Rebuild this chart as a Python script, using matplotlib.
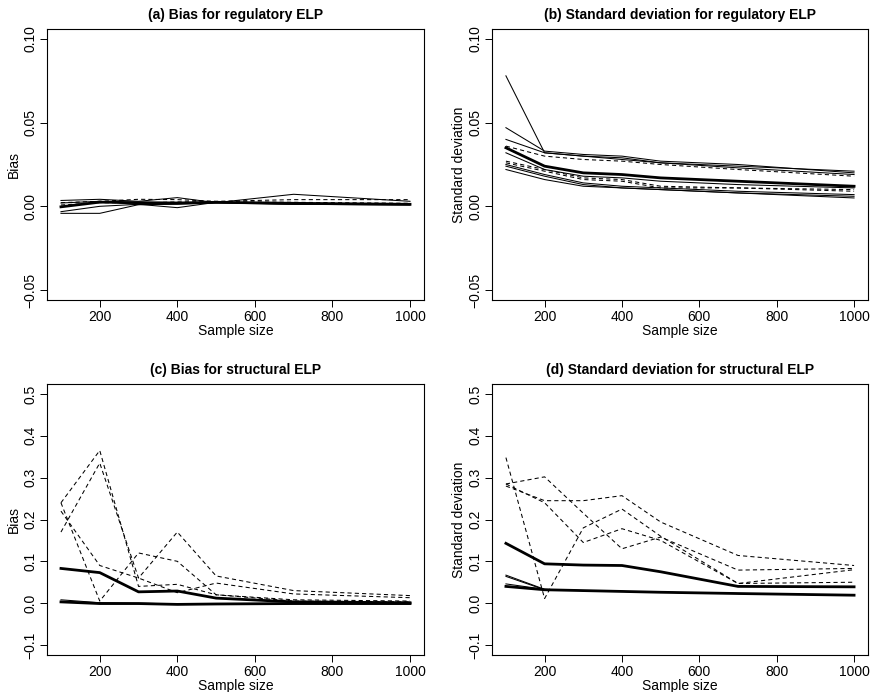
import numpy as np
import matplotlib.pyplot as plt

plt.rcParams['font.family'] = ['Liberation Sans', 'DejaVu Sans']

# sample sizes used in the simulation
n = [100, 200, 300, 400, 500, 700, 1000]

# (a) bias, regulatory ELP
bias_reg_solid = [
    [0.0035, 0.0042, 0.0030, 0.0052, 0.0022, 0.0072, 0.0030],
    [-0.0042, -0.0042, 0.0010, 0.0018, 0.0022, 0.0018, 0.0012],
    [-0.0032, 0.0000, 0.0012, -0.0008, 0.0024, 0.0012, 0.0008],
    [0.0020, 0.0030, 0.0010, 0.0012, 0.0020, 0.0012, 0.0010],
]
bias_reg_thick = [[-0.0003, 0.0025, 0.0022, 0.0020, 0.0024, 0.0018, 0.0012]]
bias_reg_dash = [
    [0.0022, 0.0030, 0.0042, 0.0040, 0.0030, 0.0040, 0.0040],
    [0.0008, 0.0022, 0.0020, 0.0026, 0.0028, 0.0024, 0.0018],
]

# (b) standard deviation, regulatory ELP
sd_reg_solid = [
    [0.078, 0.032, 0.030, 0.029, 0.026, 0.024, 0.021],
    [0.047, 0.033, 0.031, 0.030, 0.027, 0.025, 0.020],
    [0.040, 0.032, 0.030, 0.028, 0.026, 0.023, 0.019],
    [0.032, 0.022, 0.018, 0.017, 0.015, 0.013, 0.011],
    [0.025, 0.019, 0.014, 0.012, 0.011, 0.009, 0.007],
    [0.024, 0.018, 0.013, 0.011, 0.010, 0.008, 0.006],
    [0.022, 0.016, 0.012, 0.011, 0.010, 0.008, 0.005],
]
sd_reg_thick = [[0.035, 0.024, 0.020, 0.019, 0.017, 0.015, 0.012]]
sd_reg_dash = [
    [0.036, 0.030, 0.028, 0.027, 0.025, 0.022, 0.018],
    [0.027, 0.022, 0.017, 0.016, 0.012, 0.011, 0.009],
    [0.026, 0.021, 0.016, 0.015, 0.011, 0.011, 0.010],
]

# (c) bias, structural ELP
bias_str_solid = [
    [0.008, 0.001, 0.000, -0.002, -0.002, -0.001, -0.001],
    [0.004, 0.000, -0.001, -0.002, -0.002, -0.001, -0.002],
]
bias_str_thick = [
    [0.083, 0.073, 0.027, 0.029, 0.012, 0.003, 0.001],
    [0.003, -0.001, -0.001, -0.003, -0.002, -0.001, -0.001],
]
bias_str_dash = [
    [0.240, 0.365, 0.040, 0.045, 0.020, 0.005, 0.003],
    [0.170, 0.335, 0.060, 0.170, 0.065, 0.030, 0.018],
    [0.240, 0.005, 0.120, 0.100, 0.020, 0.008, 0.005],
    [0.220, 0.090, 0.060, 0.025, 0.048, 0.022, 0.013],
]

# (d) standard deviation, structural ELP
sd_str_solid = [
    [0.067, 0.033, 0.030, 0.028, 0.026, 0.023, 0.019],
    [0.064, 0.032, 0.030, 0.028, 0.026, 0.023, 0.019],
    [0.046, 0.033, 0.030, 0.028, 0.026, 0.023, 0.019],
]
sd_str_thick = [
    [0.143, 0.094, 0.091, 0.090, 0.075, 0.040, 0.039],
    [0.040, 0.032, 0.030, 0.028, 0.026, 0.023, 0.019],
]
sd_str_dash = [
    [0.285, 0.302, 0.215, 0.130, 0.158, 0.079, 0.083],
    [0.280, 0.245, 0.245, 0.257, 0.194, 0.114, 0.090],
    [0.348, 0.011, 0.180, 0.225, 0.160, 0.047, 0.050],
    [0.285, 0.240, 0.145, 0.178, 0.150, 0.047, 0.080],
]

panels = [
    ('(a) Bias for regulatory ELP', 'Bias', bias_reg_solid, bias_reg_thick, bias_reg_dash,
     [-0.05, 0.0, 0.05, 0.10], '%.2f'),
    ('(b) Standard deviation for regulatory ELP', 'Standard deviation', sd_reg_solid, sd_reg_thick, sd_reg_dash,
     [-0.05, 0.0, 0.05, 0.10], '%.2f'),
    ('(c) Bias for structural ELP', 'Bias', bias_str_solid, bias_str_thick, bias_str_dash,
     [-0.1, 0.0, 0.1, 0.2, 0.3, 0.4, 0.5], '%.1f'),
    ('(d) Standard deviation for structural ELP', 'Standard deviation', sd_str_solid, sd_str_thick, sd_str_dash,
     [-0.1, 0.0, 0.1, 0.2, 0.3, 0.4, 0.5], '%.1f'),
]

W, H = 871, 692
boxes = [(47, 424, 29, 300), (492, 868, 29, 300), (47, 424, 384, 655), (492, 868, 384, 655)]

fig = plt.figure(figsize=(W / 100, H / 100), dpi=100)

for i, (title, ylab, solid, thick, dash, yt, fmt) in enumerate(panels):
    l, r, t, b = boxes[i]
    ax = fig.add_axes([l / W, 1 - b / H, (r - l) / W, (b - t) / H])
    for s in solid:
        ax.plot(n, s, color='black', lw=0.75)
    for s in dash:
        ax.plot(n, s, color='black', lw=0.75, linestyle=(0, (4, 3)))
    for s in thick:
        ax.plot(n, s, color='black', lw=2.0)

    pad = (yt[-1] - yt[0]) * 0.04
    ax.set_ylim(yt[0] - pad, yt[-1] + pad)
    ax.set_xlim(100 - 36, 1000 + 36)
    ax.set_xticks([200, 400, 600, 800, 1000])
    ax.set_yticks(yt)
    ax.set_yticklabels([(fmt % v).replace('-', '\u2212') for v in yt], rotation=90, va='center')
    ax.tick_params(direction='out', length=5, width=0.7, labelsize=10, pad=2, colors='black')
    for sp in ax.spines.values():
        sp.set_linewidth(0.8)
    ax.set_title(title, fontsize=10, fontweight='bold', pad=7)
    ax.set_xlabel('Sample size', fontsize=10)
    ax.set_ylabel(ylab, fontsize=10)
    ax.xaxis.set_label_coords(0.5, -0.09)
    ax.yaxis.set_label_coords(-0.069, 0.5)

fig.savefig('out.png', dpi=100)
